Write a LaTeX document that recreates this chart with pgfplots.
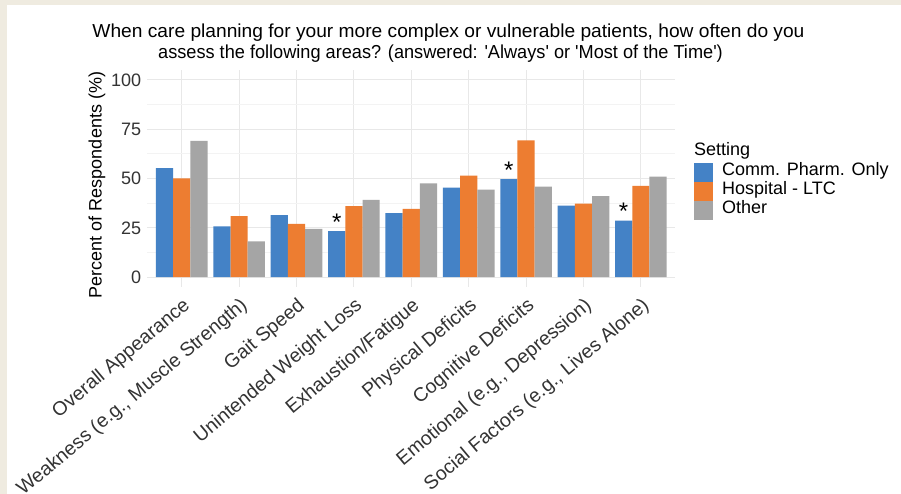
\documentclass[border=0pt]{standalone}
\usepackage{fontspec}
\setmainfont{Liberation Sans}
\usepackage{pgfplots}
\pgfplotsset{compat=1.18}

\definecolor{cpblue}{RGB}{68,130,198}
\definecolor{hosporange}{RGB}{237,125,49}
\definecolor{othergrey}{RGB}{165,165,165}
\definecolor{framebeige}{RGB}{239,235,224}
\definecolor{gridmajor}{RGB}{232,232,232}
\definecolor{gridminor}{RGB}{243,243,243}

\newcommand{\chartfont}{\fontsize{18}{21}\selectfont}
\newcommand{\titlefont}{\fontsize{18.8}{22}\selectfont}
\newcommand{\catfont}{\fontsize{19.5}{23}\selectfont}

\begin{document}
\begin{tikzpicture}
  % page background with a thin frame on the top and left
  \fill[framebeige] (0pt,0pt) rectangle (901pt,494pt);
  \fill[white] (7pt,0pt) rectangle (901pt,489pt);
  \path[use as bounding box] (0pt,0pt) rectangle (901pt,494pt);

  % two-line title
  \node[anchor=base, inner sep=0pt, font=\titlefont, xscale=1.02] at (448.5pt,456pt)
    {When care planning for your more complex or vulnerable patients, how often do you};
  \node[anchor=base, inner sep=0pt, font=\titlefont, xscale=0.966] at (440.5pt,435pt)
    {assess the following areas? (answered: \textquotesingle Always\textquotesingle\ or \textquotesingle Most of the Time\textquotesingle)};

  % legend title
  \node[anchor=base west, inner sep=0pt, font=\chartfont] at (694pt,338pt) {Setting};

  \begin{axis}[
    at={(147.3pt,207pt)}, anchor=south west,
    scale only axis, width=528pt, height=217pt,
    xmin=-0.6, xmax=8.6, ymin=-5, ymax=105,
    ybar, bar width=0.3,
    axis line style={draw=none},
    major tick length=0pt, minor tick length=0pt,
    xtick={0,...,8},
    xticklabels={Overall Appearance, {Weakness (e.g., Muscle Strength)}, Gait Speed,
      Unintended Weight Loss, Exhaustion/Fatigue, Physical Deficits,
      Cognitive Deficits, {Emotional (e.g., Depression)}, {Social Factors (e.g., Lives Alone)}},
    ytick={0,25,50,75,100},
    minor ytick={12.5,37.5,62.5,87.5},
    xmajorgrids, ymajorgrids, yminorgrids,
    major grid style={gridmajor, line width=1.1pt},
    minor grid style={gridminor, line width=0.8pt},
    /pgf/number format/assume math mode=true,
    tick label style={font=\chartfont, text=black!80},
    xticklabel style={rotate=40, anchor=north east, inner sep=0pt, font=\catfont,
      xshift=-6pt, yshift=-7pt},
    yticklabel style={inner sep=0pt, xshift=-6pt},
    ylabel={Percent of Respondents (\%)},
    ylabel style={at={(axis description cs:-0.0953,0.47)}, anchor=center, font=\chartfont},
    legend style={at={(axis description cs:1.0354,0.571)}, anchor=north west,
      draw=none, fill=none, inner sep=0pt, row sep=0pt, column sep=9pt,
      cells={anchor=base west},
      nodes={inner sep=0pt, text height=12.5pt, text depth=6.5pt, font=\chartfont}},
    legend image code/.code={\fill[#1] (0pt,-6.5pt) rectangle (19pt,12.5pt);},
  ]
    \addplot[fill=cpblue, draw=none, bar shift=-0.3] coordinates {
      (0,55.3) (1,25.7) (2,31.4) (3,23.3) (4,32.5) (5,45.4) (6,49.7) (7,36.2) (8,28.7)};
    \addplot[fill=hosporange, draw=none, bar shift=0] coordinates {
      (0,50.0) (1,30.9) (2,27.0) (3,36.0) (4,34.6) (5,51.4) (6,69.3) (7,37.2) (8,46.3)};
    \addplot[fill=othergrey, draw=none, bar shift=0.3] coordinates {
      (0,69.1) (1,18.1) (2,24.5) (3,39.2) (4,47.5) (5,44.4) (6,45.9) (7,41.1) (8,50.9)};
    % significance markers above the community-pharmacy bars
    \addplot[draw=none, fill=none, bar shift=-0.3, forget plot,
      nodes near coords={*},
      nodes near coords style={font=\fontsize{24}{24}\selectfont, anchor=base, inner sep=0pt, yshift=1pt}]
      coordinates {(3,23.3) (6,49.7) (8,28.7)};
    \legend{Comm. Pharm. Only, Hospital - LTC, Other}
  \end{axis}
\end{tikzpicture}
\end{document}
